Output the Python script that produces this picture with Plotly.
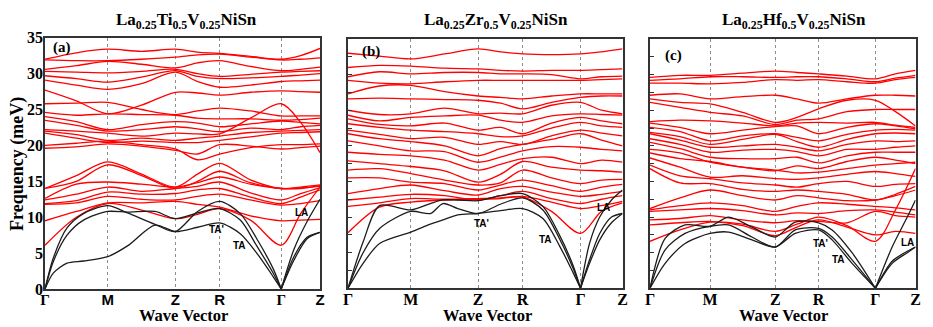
import plotly.graph_objects as go

W, H = 933, 327
OFF = 8  # the page body adds an 8 px margin around the figure

# ---- high-symmetry points along the path (fraction of path length) ----
k_labels = ["Γ", "M", "Z", "R", "Γ", "Z"]
a_kpts = [0, 0.228, 0.474, 0.635, 0.859, 1.0]
b_kpts = [0, 0.229, 0.474, 0.636, 0.847, 1.0]
c_kpts = [0, 0.226, 0.472, 0.635, 0.849, 1.0]

# red (optical) bands, sampled at G, mid, M, mid, Z, mid, R, mid, G, mid, Z   (meV)
a_red = [
    [32.0, 32.9, 33.4, 33.1, 33.4, 33.0, 32.8, 32.4, 32.0, 32.5, 33.5],
    [31.9, 31.8, 31.8, 32.0, 32.3, 32.6, 32.7, 32.3, 31.9, 32.0, 32.2],
    [30.6, 31.1, 31.7, 31.3, 30.8, 31.5, 31.8, 31.0, 30.4, 30.6, 30.9],
    [30.3, 30.2, 30.1, 30.3, 30.6, 30.0, 29.6, 29.9, 30.2, 30.3, 30.4],
    [29.7, 29.3, 28.8, 29.5, 30.4, 29.6, 29.3, 29.4, 29.6, 29.8, 30.0],
    [29.1, 28.4, 27.8, 28.6, 30.2, 28.9, 28.1, 28.4, 28.9, 29.0, 29.1],
    [27.7, 26.2, 24.4, 25.6, 27.4, 27.3, 27.0, 27.4, 27.6, 27.5, 27.4],
    [25.8, 25.9, 26.0, 25.0, 24.3, 24.8, 25.2, 24.8, 24.1, 24.1, 24.1],
    [24.6, 24.2, 24.4, 24.3, 24.2, 23.8, 23.7, 23.7, 23.5, 23.6, 23.8],
    [24.0, 23.3, 22.2, 22.9, 23.3, 23.1, 22.6, 23.0, 23.4, 23.2, 23.0],
    [23.5, 22.8, 22.0, 22.2, 22.6, 22.3, 21.9, 22.4, 22.2, 22.6, 22.8],
    [22.2, 22.0, 21.7, 21.3, 21.7, 21.6, 21.6, 23.8, 25.8, 23.2, 19.0],
    [22.0, 21.5, 20.7, 21.0, 20.7, 21.0, 21.3, 21.8, 22.0, 22.1, 22.2],
    [21.7, 21.0, 20.4, 20.6, 20.4, 20.4, 20.7, 21.2, 21.7, 21.8, 21.9],
    [20.0, 20.3, 20.6, 20.1, 19.5, 18.0, 18.8, 19.7, 20.1, 20.1, 20.2],
    [19.6, 19.8, 20.2, 19.9, 19.3, 18.8, 20.1, 19.9, 19.5, 19.7, 19.9],
    [6.1, 10.0, 11.9, 11.0, 9.8, 10.4, 11.2, 9.6, 6.1, 10.5, 14.2],
    [9.5, 10.8, 12.0, 12.0, 12.2, 11.8, 11.4, 10.2, 9.5, 9.6, 9.7],
    [11.8, 12.0, 12.9, 12.5, 12.4, 12.9, 13.2, 12.4, 11.7, 11.9, 12.3],
    [11.9, 12.3, 13.5, 13.2, 13.3, 13.8, 14.0, 12.8, 11.9, 12.8, 13.8],
    [12.4, 13.2, 14.2, 13.6, 14.0, 14.3, 14.9, 13.4, 12.4, 13.3, 14.1],
    [12.6, 14.6, 14.9, 14.6, 14.2, 14.8, 15.6, 14.6, 14.0, 14.0, 14.4],
    [14.0, 15.0, 17.3, 15.8, 14.0, 15.0, 16.4, 14.8, 14.0, 14.1, 14.3],
    [14.0, 15.8, 17.7, 16.0, 14.2, 16.0, 17.5, 15.2, 14.0, 14.2, 14.5],
]

b_red = [
    [33.0, 32.6, 32.2, 32.9, 33.6, 33.2, 32.9, 32.8, 32.9, 33.2, 33.6],
    [31.0, 31.3, 31.2, 30.9, 30.8, 30.6, 30.5, 30.6, 30.6, 30.7, 30.8],
    [29.7, 30.4, 30.1, 30.3, 30.3, 30.1, 30.1, 30.0, 29.4, 29.7, 29.8],
    [29.2, 28.8, 28.7, 29.0, 29.2, 29.2, 29.2, 29.2, 29.2, 29.3, 29.4],
    [27.3, 28.4, 28.5, 27.6, 27.0, 26.8, 26.6, 27.0, 27.3, 27.3, 27.3],
    [26.6, 26.7, 26.6, 26.5, 26.4, 26.0, 25.2, 26.1, 26.8, 27.0, 27.0],
    [25.0, 24.4, 24.5, 25.3, 24.5, 24.6, 24.5, 25.7, 26.1, 25.0, 24.5],
    [24.3, 23.5, 24.0, 24.2, 24.3, 23.6, 23.3, 24.2, 24.5, 24.4, 24.3],
    [23.8, 23.0, 22.8, 23.2, 22.2, 22.6, 21.7, 23.2, 24.0, 23.5, 23.1],
    [23.1, 22.6, 22.2, 22.0, 21.7, 21.3, 21.4, 22.5, 23.3, 22.8, 22.6],
    [22.2, 21.6, 21.0, 21.2, 20.2, 20.6, 20.2, 21.4, 22.2, 21.8, 21.4],
    [21.7, 21.0, 20.6, 20.0, 18.6, 19.6, 20.2, 20.9, 21.7, 20.8, 20.0],
    [20.7, 20.0, 19.3, 19.2, 17.7, 18.4, 19.3, 19.9, 19.8, 19.5, 19.3],
    [19.1, 18.8, 18.6, 18.0, 16.6, 17.4, 18.2, 18.4, 17.5, 18.0, 17.7],
    [17.9, 17.5, 17.1, 16.5, 14.9, 16.0, 17.8, 17.0, 16.6, 16.5, 16.3],
    [16.6, 16.8, 16.1, 15.2, 14.5, 14.8, 16.6, 15.5, 14.7, 15.2, 15.3],
    [15.5, 15.5, 14.9, 14.7, 13.8, 14.5, 15.2, 14.4, 13.6, 14.2, 14.6],
    [13.3, 14.0, 14.5, 13.7, 13.1, 14.0, 14.3, 13.5, 12.9, 13.2, 13.6],
    [12.4, 12.8, 13.2, 13.0, 12.4, 13.0, 13.6, 12.6, 11.9, 12.5, 13.0],
    [11.5, 12.0, 12.6, 12.5, 12.6, 12.7, 12.9, 12.1, 11.2, 11.6, 12.2],
    [7.8, 11.4, 12.1, 12.4, 12.5, 12.6, 12.8, 10.8, 7.7, 10.8, 12.0],
]

c_red = [
    [29.6, 29.9, 29.9, 30.2, 30.5, 30.3, 30.1, 29.8, 29.4, 30.1, 30.6],
    [29.2, 29.4, 29.7, 29.7, 29.6, 29.7, 29.7, 29.4, 29.0, 29.5, 29.9],
    [28.8, 28.8, 28.7, 28.9, 29.3, 29.2, 29.3, 29.0, 28.8, 29.3, 29.6],
    [27.1, 27.3, 26.6, 26.9, 27.1, 26.6, 26.0, 26.6, 27.1, 27.1, 27.0],
    [26.6, 26.1, 25.9, 24.7, 23.3, 24.0, 25.2, 26.4, 26.4, 24.8, 22.8],
    [26.1, 25.4, 24.7, 24.2, 23.0, 23.6, 23.8, 24.8, 25.1, 25.1, 25.1],
    [23.4, 23.6, 23.5, 23.2, 22.8, 23.2, 23.3, 23.2, 23.3, 22.9, 22.6],
    [23.2, 22.6, 21.7, 22.2, 22.7, 22.8, 21.7, 22.6, 23.1, 22.8, 22.4],
    [22.6, 22.0, 20.7, 21.4, 21.7, 21.2, 20.7, 21.6, 22.2, 22.3, 22.2],
    [21.9, 21.3, 20.2, 20.9, 21.6, 20.6, 19.8, 20.9, 21.7, 21.8, 21.7],
    [21.7, 20.8, 19.8, 20.0, 20.2, 19.8, 19.3, 20.2, 20.7, 20.6, 20.7],
    [21.0, 20.2, 19.1, 19.4, 19.5, 19.2, 18.6, 19.5, 19.5, 19.8, 20.0],
    [20.5, 19.6, 18.4, 18.2, 18.2, 18.4, 17.6, 18.6, 19.1, 19.1, 19.1],
    [19.5, 19.0, 17.7, 17.0, 16.5, 17.2, 16.8, 17.8, 18.4, 18.0, 17.5],
    [19.0, 18.2, 17.8, 17.0, 16.6, 16.2, 16.3, 16.8, 17.3, 17.5, 17.7],
    [18.3, 17.0, 15.6, 15.8, 15.4, 15.3, 15.5, 16.0, 16.4, 16.1, 15.7],
    [17.3, 15.8, 15.4, 14.8, 14.5, 14.2, 14.7, 15.0, 14.3, 14.6, 14.7],
    [16.8, 14.8, 14.7, 13.9, 13.6, 13.8, 13.6, 13.2, 12.4, 13.2, 14.3],
    [11.2, 12.7, 13.8, 13.0, 12.4, 13.0, 12.7, 12.3, 12.4, 13.0, 13.8],
    [11.0, 11.6, 12.0, 11.6, 10.8, 11.5, 12.0, 11.8, 11.5, 11.3, 11.0],
    [10.8, 11.0, 11.2, 10.9, 10.3, 10.6, 10.5, 10.9, 11.0, 10.7, 10.3],
    [9.6, 9.8, 10.2, 9.6, 9.2, 9.5, 9.4, 9.2, 10.8, 10.2, 10.0],
    [8.9, 9.2, 9.4, 8.8, 7.4, 8.6, 9.6, 8.6, 7.5, 8.0, 7.7],
    [6.6, 8.2, 9.3, 9.0, 8.0, 9.0, 10.0, 8.8, 6.6, 11.0, 16.8],
]

# black (acoustic) bands: their own k samples
a_black_k = [0, 0.03, 0.08, 0.14, 0.228, 0.30, 0.40, 0.474, 0.555, 0.635,
             0.71, 0.77, 0.83, 0.859, 0.905, 0.953, 1.0]
a_black = [
    [0, 2.2, 3.6, 3.9, 4.5, 6.0, 8.9, 8.0, 8.6, 9.2, 7.7, 5.0, 1.7, 0, 4.0, 7.0, 7.9],
    [0, 3.8, 7.5, 9.6, 10.8, 10.7, 10.8, 9.8, 10.6, 11.2, 9.6, 6.0, 2.2, 0, 4.5, 7.2, 7.9],
    [0, 4.3, 8.5, 10.5, 11.6, 10.6, 9.0, 8.0, 10.8, 12.2, 10.5, 7.0, 2.8, 0, 5.5, 9.4, 12.5],
]
b_black_k = [0, 0.055, 0.115, 0.229, 0.30, 0.346, 0.40, 0.474, 0.555, 0.636,
             0.71, 0.77, 0.82, 0.847, 0.88, 0.917, 0.96, 1.0]
b_black = [
    [0, 3.5, 6.3, 7.9, 9.0, 9.6, 10.3, 10.5, 10.9, 11.2, 9.8, 6.0, 2.2, 0, 3.5, 6.8, 9.2, 10.5],
    [0, 5.0, 8.4, 10.8, 10.5, 11.9, 11.2, 10.5, 11.8, 12.7, 11.0, 7.0, 2.8, 0, 4.0, 7.7, 10.0, 10.5],
    [0, 6.5, 11.6, 11.0, 11.9, 12.4, 12.4, 12.3, 13.0, 13.3, 11.5, 7.5, 3.2, 0, 6.3, 10.0, 12.4, 13.8],
]
c_black_k = [0, 0.057, 0.132, 0.226, 0.296, 0.384, 0.472, 0.547, 0.635, 0.686,
             0.761, 0.849, 0.912, 0.969, 1.0]
c_black = [
    [0, 3.5, 6.3, 7.7, 7.9, 6.8, 5.8, 7.7, 8.2, 6.8, 3.5, 0, 3.5, 5.0, 5.8],
    [0, 5.4, 7.7, 8.7, 8.9, 7.2, 5.8, 8.2, 8.4, 7.2, 4.0, 0, 3.8, 5.2, 5.8],
    [0, 7.0, 8.9, 8.7, 10.0, 8.6, 7.2, 9.3, 9.2, 8.2, 5.0, 0, 5.8, 10.0, 12.4],
]

titles = ["La<sub>0.25</sub>Ti<sub>0.5</sub>V<sub>0.25</sub>NiSn",
          "La<sub>0.25</sub>Zr<sub>0.5</sub>V<sub>0.25</sub>NiSn",
          "La<sub>0.25</sub>Hf<sub>0.5</sub>V<sub>0.25</sub>NiSn"]
tags = ["(a)", "(b)", "(c)"]
# mode labels: (text, k, meV) per panel
mode_labels = [
    [("TA'", 0.624, 8.3), ("TA", 0.709, 6.1), ("LA", 0.933, 10.6)],
    [("TA'", 0.486, 9.1), ("TA", 0.719, 6.9), ("LA", 0.930, 11.3)],
    [("TA'", 0.642, 6.3), ("TA", 0.711, 4.1), ("LA", 0.969, 6.5)],
]

# ---- layout geometry in screen pixels ----
boxes = [(45, 320, 37.7, 289.0), (348, 622.5, 39, 288.3), (650, 915.5, 39, 288.3)]
title_x = [186, 496, 794]
wave_x = [183, 487, 783]
tag_pos = [(62, 48), (371, 51), (673, 55)]


def px(x):
    return (x - OFF) / W


def py(y):
    return 1 - (y - OFF) / H


SERIF = "Liberation Serif"
SANS = "Liberation Sans"

fig = go.Figure()

panels = [(a_kpts, a_red, a_black_k, a_black),
          (b_kpts, b_red, b_black_k, b_black),
          (c_kpts, c_red, c_black_k, c_black)]

for p, (kpts, red, bk, black) in enumerate(panels):
    xa = "x" if p == 0 else "x%d" % (p + 1)
    ya = "y" if p == 0 else "y%d" % (p + 1)
    # 11-point grid: high-symmetry points and midpoints
    grid = []
    for i in range(len(kpts) - 1):
        grid += [kpts[i], (kpts[i] + kpts[i + 1]) / 2]
    grid.append(kpts[-1])
    for band in red:
        fig.add_trace(go.Scatter(x=grid, y=band, mode="lines", xaxis=xa, yaxis=ya,
                                 line=dict(color="#ff0000", width=1.3, shape="spline", smoothing=0.9),
                                 hoverinfo="skip", showlegend=False))
    g2 = bk.index(kpts[4])
    for band in black:
        for lo, hi in [(0, g2 + 1), (g2, len(bk))]:
            fig.add_trace(go.Scatter(x=bk[lo:hi], y=band[lo:hi], mode="lines", xaxis=xa, yaxis=ya,
                                     line=dict(color="#1c1c1c", width=1.3, shape="spline", smoothing=0.8),
                                     hoverinfo="skip", showlegend=False))

layout = dict(template="none", width=W, height=H,
              margin=dict(l=0, r=0, t=0, b=0, pad=0, autoexpand=False),
              paper_bgcolor="white", plot_bgcolor="white", showlegend=False)

annotations = []
for p in range(3):
    x0, x1, yt, yb = boxes[p]
    sfx = "" if p == 0 else str(p + 1)
    kpts = panels[p][0]
    if p == 0:
        ticktext = ["<span style='font-family:%s'>Γ</span>" % SERIF, "M", "Z", "R",
                    "<span style='font-family:%s'>Γ</span>" % SERIF, "Z"]
        tfont = dict(family=SANS, size=15, color="black")
    else:
        ticktext = k_labels
        tfont = dict(family=SERIF, size=16, color="black")
    layout["xaxis" + sfx] = dict(
        domain=[px(x0), px(x1)], range=[0, 1], anchor="y" + sfx, automargin=False,
        tickvals=kpts, ticktext=["<b>%s</b>" % t for t in ticktext], tickfont=tfont,
        ticks="", ticklabelstandoff=-4,
        showgrid=True, gridcolor="#8c8c8c", griddash="dot", gridwidth=1,
        zeroline=False, showline=True, linecolor="#333333", linewidth=1.5, mirror=True)
    layout["yaxis" + sfx] = dict(
        domain=[py(yb), py(yt)], range=[0, 35], anchor="x" + sfx, automargin=False,
        dtick=5 if p == 0 else 2.5, showticklabels=(p == 0),
        tickfont=dict(family=SERIF, size=16, color="black"),
        ticks="" if p == 0 else "inside", ticklen=4, tickcolor="#333333",
        showgrid=False, zeroline=False, showline=True, linecolor="#333333",
        linewidth=1.5, mirror=True)
    if p == 0:
        layout["yaxis"]["tickprefix"] = "<b>"
        layout["yaxis"]["ticksuffix"] = "</b>"
        layout["yaxis"]["ticklabelstandoff"] = -3

    annotations.append(dict(text="<b>%s</b>" % titles[p], x=px(title_x[p]), y=py(21),
                            xref="paper", yref="paper", showarrow=False,
                            xanchor="center", yanchor="middle",
                            font=dict(family=SERIF, size=17, color="black")))
    annotations.append(dict(text="<b>Wave Vector</b>", x=px(wave_x[p]), y=py(315),
                            xref="paper", yref="paper", showarrow=False,
                            xanchor="center", yanchor="middle",
                            font=dict(family=SERIF, size=16.5, color="black")))
    annotations.append(dict(text="<b>%s</b>" % tags[p], x=px(tag_pos[p][0]), y=py(tag_pos[p][1]),
                            xref="paper", yref="paper", showarrow=False,
                            xanchor="center", yanchor="middle",
                            font=dict(family=SERIF, size=15, color="black")))
    for txt, kx, ky in mode_labels[p]:
        annotations.append(dict(text="<b>%s</b>" % txt, x=kx, y=ky, xref="x" + sfx, yref="y" + sfx,
                                showarrow=False, xanchor="center", yanchor="middle",
                                font=dict(family=SANS, size=10, color="black")))

annotations.append(dict(text="<b>Frequency (meV)</b>", x=px(17), y=py(164),
                        xref="paper", yref="paper", showarrow=False, textangle=-90,
                        xanchor="center", yanchor="middle",
                        font=dict(family=SERIF, size=18, color="black")))
layout["annotations"] = annotations

fig.update_layout(**layout)
fig.write_html("out.html")
